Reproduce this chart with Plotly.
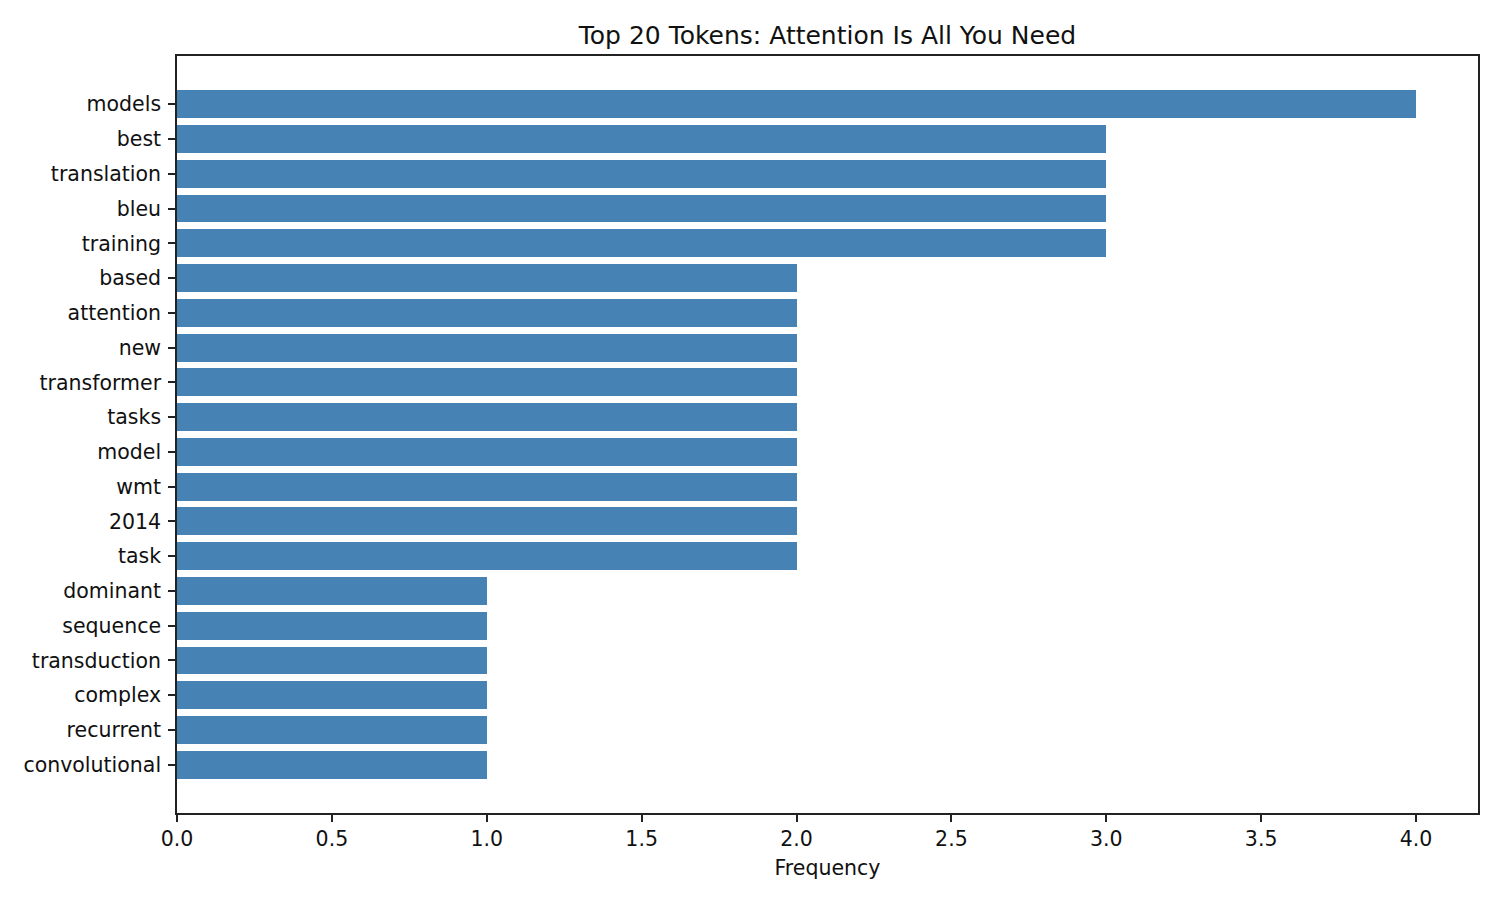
import plotly.graph_objects as go

# tokens listed bottom to top, as drawn
tokens = ['convolutional', 'recurrent', 'complex', 'transduction', 'sequence',
          'dominant', 'task', '2014', 'wmt', 'model', 'tasks', 'transformer',
          'new', 'attention', 'based', 'training', 'bleu', 'translation',
          'best', 'models']
counts = [1, 1, 1, 1, 1, 1, 2, 2, 2, 2, 2, 2, 2, 2, 2, 3, 3, 3, 3, 4]
x_ticks = [0.0, 0.5, 1.0, 1.5, 2.0, 2.5, 3.0, 3.5, 4.0]

fig = go.Figure()
fig.add_trace(go.Bar(
    x=counts,
    y=tokens,
    orientation='h',
    width=0.8,
    marker=dict(color='#4682B4', line=dict(width=0)),
))

axis_style = dict(
    showline=True,
    linecolor='#222222',
    linewidth=1.6,
    mirror=True,
    ticks='outside',
    ticklen=7,
    tickwidth=1.6,
    tickcolor='#222222',
    showgrid=False,
    zeroline=False,
    tickfont=dict(family='DejaVu Sans', size=20.5, color='#111111'),
)

fig.update_layout(
    width=1500,
    height=900,
    margin=dict(l=177, r=22, t=56, b=87),
    plot_bgcolor='white',
    paper_bgcolor='white',
    showlegend=False,
    bargap=0,
    font=dict(family='DejaVu Sans', color='#111111'),
    title=dict(
        text='Top 20 Tokens: Attention Is All You Need',
        x=0.5 + (177 - 22) / 2 / 1500,
        xanchor='center',
        y=1 - 35 / 900,
        yanchor='middle',
        font=dict(family='DejaVu Sans', size=25, color='#111111'),
    ),
)

fig.update_xaxes(
    axis_style,
    range=[0, 4.2],
    tickvals=x_ticks,
    tickformat='.1f',
    title=dict(text='Frequency', font=dict(family='DejaVu Sans', size=20.5, color='#111111'),
               standoff=10),
)
fig.update_yaxes(
    axis_style,
    type='category',
    categoryorder='array',
    categoryarray=tokens,
    range=[-1.39, 20.39],
    ticklabelstandoff=3,
)

fig.write_html("out.html", config={'displayModeBar': False},
               post_script="document.body.style.margin='0';")
